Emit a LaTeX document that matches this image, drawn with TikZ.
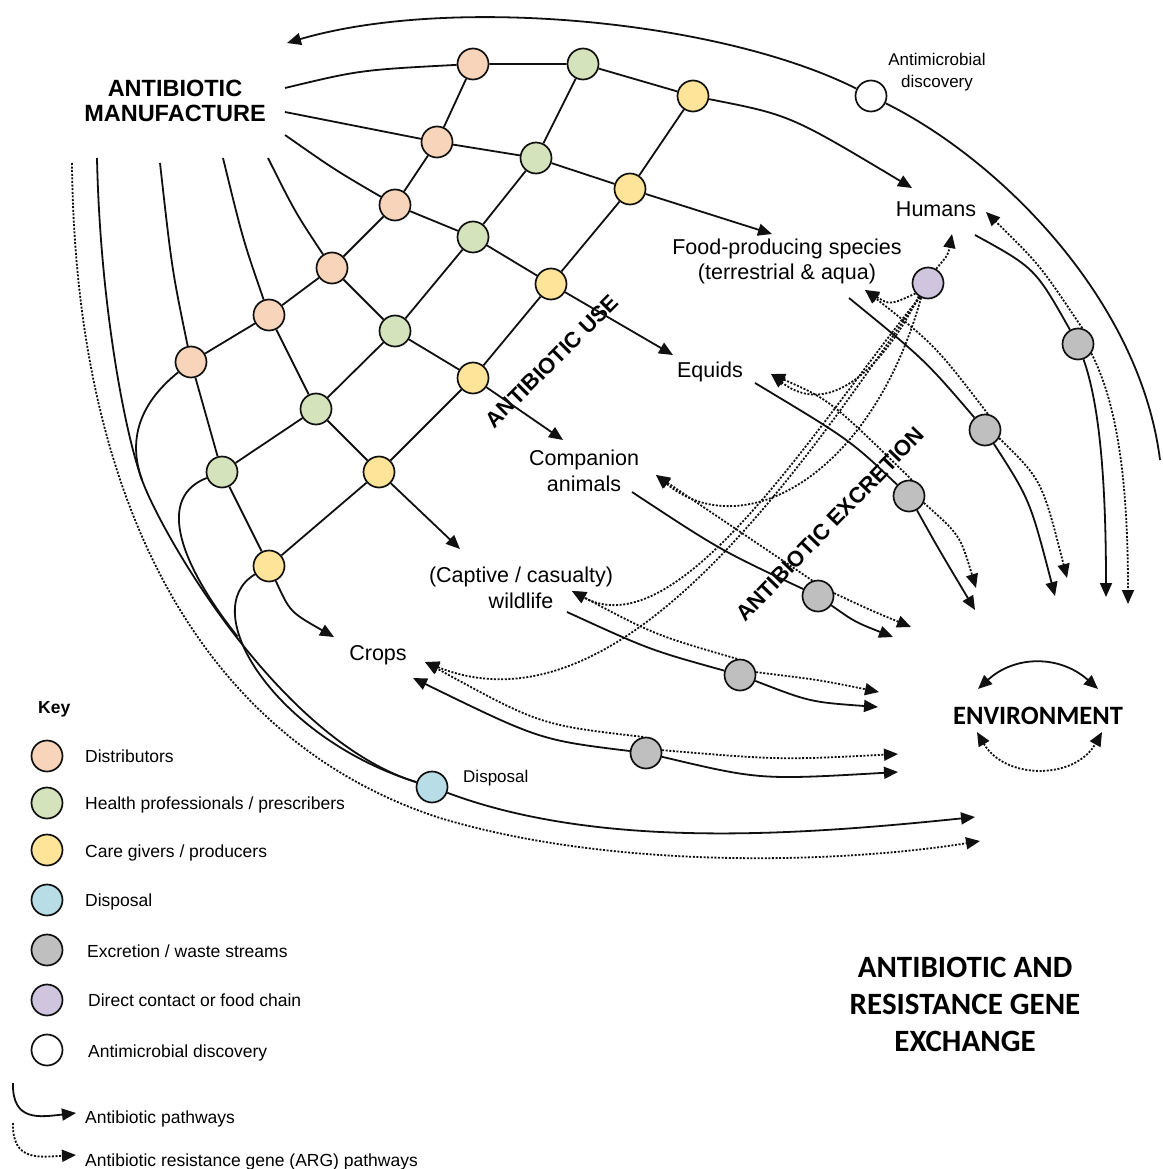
\documentclass[tikz,border=0pt]{standalone}
\usepackage{fontspec}
\setmainfont{Liberation Sans}
\newfontfamily\calfont{Carlito}
\usetikzlibrary{arrows.meta}
\definecolor{cDist}{HTML}{F8D5BA}
\definecolor{cHealth}{HTML}{D5E3BD}
\definecolor{cCare}{HTML}{FEE498}
\definecolor{cDisp}{HTML}{B9DDE7}
\definecolor{cWaste}{HTML}{BFBFBF}
\definecolor{cContact}{HTML}{CFC5DE}
\definecolor{ink}{HTML}{101010}
\begin{document}
\begin{tikzpicture}[x=1pt,y=-1pt,
  hub/.style={circle,draw=ink,line width=1.7pt,minimum size=31pt,inner sep=0pt},
  dist/.style={hub,fill=cDist},
  health/.style={hub,fill=cHealth},
  care/.style={hub,fill=cCare},
  disp/.style={hub,fill=cDisp},
  waste/.style={hub,fill=cWaste},
  contact/.style={hub,fill=cContact},
  discov/.style={hub,fill=white},
  link/.style={draw=ink,line width=1.8pt},
  argline/.style={draw=ink,line width=1.8pt,dash pattern=on 2pt off 1.6pt},
  arrowed/.style={-{Triangle[length=14pt,width=12pt]}},
  bothends/.style={{Triangle[length=14pt,width=12pt]}-{Triangle[length=14pt,width=12pt]}},
  lbl/.style={inner sep=0pt,anchor=base,font=\fontsize{21.5}{25}\selectfont},
  small/.style={inner sep=0pt,anchor=base,font=\fontsize{17}{20}\selectfont},
  keylbl/.style={inner sep=0pt,anchor=base west,font=\fontsize{17.5}{20}\selectfont},
  stage/.style={inner sep=0pt,font=\fontsize{22}{26}\selectfont\bfseries},
  headline/.style={inner sep=0pt,anchor=base,font=\fontsize{23.5}{26}\selectfont\bfseries},
  envfont/.style={inner sep=0pt,anchor=base,font=\calfont\fontsize{26.5}{30}\selectfont\bfseries},
  bigtitle/.style={inner sep=0pt,anchor=base,font=\calfont\fontsize{31}{35}\selectfont\bfseries},
]
\fill[white] (0,0) rectangle (1162,1169);
\useasboundingbox (0,0) rectangle (1162,1169);

% ---------- text labels ----------
\node[headline] (mfgA) at (175,97) {ANTIBIOTIC};
\node[headline] (mfgB) at (175,122) {MANUFACTURE};
\node[small] (amA) at (937,66) {Antimicrobial};
\node[small] (amB) at (937,88) {discovery};
\node[lbl] (humans) at (936,216) {Humans};
\node[lbl] (foodA) at (787,254) {Food-producing species};
\node[lbl] (foodB) at (787,279) {(terrestrial \& aqua)};
\node[lbl] (equids) at (710,377) {Equids};
\node[lbl] (compA) at (584,465) {Companion};
\node[lbl] (compB) at (584,491) {animals};
\node[lbl] (wildA) at (521,582) {(Captive / casualty)};
\node[lbl] (wildB) at (521,608) {wildlife};
\node[lbl] (crops) at (378,660) {Crops};
\node[envfont] (env) at (1038,724) {ENVIRONMENT};
\node[small,anchor=base west] (displbl) at (463,782) {Disposal};
\node[bigtitle] (ttlA) at (965,977) {ANTIBIOTIC AND};
\node[bigtitle] (ttlB) at (965,1014) {RESISTANCE GENE};
\node[bigtitle] (ttlC) at (965,1051) {EXCHANGE};
\node[stage,rotate=45] (use) at (552,361) {ANTIBIOTIC USE};
\node[stage,rotate=46] (excr) at (830,524) {ANTIBIOTIC EXCRETION};

% ---------- actor grid ----------
\node[dist] (D1) at (473,64) {};
\node[dist] (D2) at (437,142) {};
\node[dist] (D3) at (395,205) {};
\node[dist] (D4) at (332,268) {};
\node[dist] (D5) at (269,315) {};
\node[dist] (D6) at (191,362) {};
\node[health] (G1) at (583,64) {};
\node[health] (G2) at (536,158) {};
\node[health] (G3) at (473,237) {};
\node[health] (G4) at (395,331) {};
\node[health] (G5) at (316,409) {};
\node[health] (G6) at (222,472) {};
\node[care] (Y1) at (693,96) {};
\node[care] (Y2) at (630,189) {};
\node[care] (Y3) at (551,284) {};
\node[care] (Y4) at (473,378) {};
\node[care] (Y5) at (379,472) {};
\node[care] (Y6) at (269,566) {};
\node[discov] (W) at (871,96) {};
\node[disp] (X) at (432,787) {};
\node[contact] (P) at (928,283) {};
\node[waste] (E1) at (1078,344) {};
\node[waste] (E2) at (985,430) {};
\node[waste] (E3) at (909,496) {};
\node[waste] (E4) at (818,596) {};
\node[waste] (E5) at (740,675) {};
\node[waste] (E6) at (646,753) {};

% ---------- free ends ----------
\coordinate (r1s) at (285,88);
\coordinate (r2s) at (285,112);
\coordinate (r3s) at (285,135);
\coordinate (r4s) at (268,158);
\coordinate (r5s) at (223,158);
\coordinate (r6s) at (160,163);
\coordinate (lgs) at (97,158);
\coordinate (dts) at (72,163);
\coordinate (j1) at (142,480);
\coordinate (j2) at (237.5,636.5);
\coordinate (dmid) at (440,818);
\coordinate (bsE) at (975,817);
\coordinate (bdE) at (980,841);
\coordinate (oaS) at (1160,460);
\coordinate (oaE) at (287,43);
\coordinate (hmA) at (912,188);
\coordinate (fdA) at (772,234);
\coordinate (eqA) at (673,355);
\coordinate (cpA) at (563,440);
\coordinate (wlA) at (460,549);
\coordinate (crA) at (334,637);
\coordinate (hmS) at (975,235);
\coordinate (hmE) at (1106,597);
\coordinate (hmD1) at (986,212);
\coordinate (hmD2) at (1128,604);
\coordinate (fdS) at (849,298);
\coordinate (fdE) at (1055,596);
\coordinate (fdD1) at (865,290);
\coordinate (fdD2) at (1067,578);
\coordinate (eqS) at (755,383);
\coordinate (eqE) at (975,610);
\coordinate (eqD1) at (771,374);
\coordinate (eqD2) at (976,588);
\coordinate (cpS) at (632,492);
\coordinate (cpE) at (893,637);
\coordinate (cpD1) at (656,475);
\coordinate (cpD2) at (911,627);
\coordinate (wlS) at (567,612);
\coordinate (wlE) at (878,707);
\coordinate (wlD1) at (572,591);
\coordinate (wlD2) at (879,692);
\coordinate (crS) at (413,678);
\coordinate (crE) at (898,772);
\coordinate (crD1) at (425,662);
\coordinate (crD2) at (898,754);
\coordinate (pH) at (952,234);
\coordinate (e1) at (978,689);
\coordinate (e2) at (1098,689);
\coordinate (e3) at (977,732);
\coordinate (e4) at (1102,732);

% ---------- supply rows ----------
\draw[link] (r1s) .. controls (360,70) .. (D1);
\draw[link] (D1) -- (G1) -- (Y1);
\draw[link,arrowed] (Y1) .. controls (790,115) .. (hmA);
\draw[link] (r2s) -- (D2) -- (G2) -- (Y2);
\draw[link,arrowed] (Y2) -- (fdA);
\draw[link] (r3s) .. controls (335,170) .. (D3);
\draw[link] (D3) -- (G3) -- (Y3);
\draw[link,arrowed] (Y3) -- (eqA);
\draw[link] (r4s) .. controls (295,212) .. (D4);
\draw[link] (D4) -- (G4) -- (Y4);
\draw[link,arrowed] (Y4) -- (cpA);
\draw[link] (r5s) .. controls (243,240) .. (D5);
\draw[link] (D5) -- (G5) -- (Y5);
\draw[link,arrowed] (Y5) -- (wlA);
\draw[link] (r6s) .. controls (172,270) .. (D6);
\draw[link] (D6) -- (G6) -- (Y6);
\draw[link,arrowed] (Y6) .. controls (290,612) .. (crA);

% ---------- columns ----------
\draw[link] (D1) -- (D2) -- (D3) -- (D4) -- (D5) -- (D6);
\draw[link] (G1) -- (G2) -- (G3) -- (G4) -- (G5) -- (G6);
\draw[link] (Y1) -- (Y2) -- (Y3) -- (Y4) -- (Y5) -- (Y6);

% ---------- disposal bundle ----------
\draw[link] (lgs) .. controls (100,300) and (124,430) .. (j1) .. controls (162,535) and (280,740) .. (X);
\draw[link] (D6) .. controls (150,395) and (124,430) .. (j1);
\draw[link] (G6) .. controls (150,500) and (190,577) .. (j2);
\draw[link] (Y6) .. controls (195,610) and (275,738) .. (X);
\draw[link,arrowed] (X) .. controls (600,850) and (800,835) .. (bsE);
\draw[argline,arrowed] (dts) .. controls (75,500) and (200,740) .. (dmid) .. controls (620,872) and (850,862) .. (bdE);

% ---------- discovery loop ----------
\draw[link] (oaS) .. controls (1140,300) and (1000,160) .. (W);
\draw[link,arrowed] (W) .. controls (720,20) and (450,-5) .. (oaE);

% ---------- excretion ----------
\draw[link] (hmS) .. controls (1035,268) .. (E1);
\draw[link,arrowed] (E1) .. controls (1098,400) and (1106,470) .. (hmE);
\draw[argline,arrowed] (E1.75) .. controls (1040,265) .. (hmD1);
\draw[argline,arrowed] (E1.-35) .. controls (1115,400) and (1128,470) .. (hmD2);

\draw[link] (fdS) .. controls (925,360) .. (E2);
\draw[link,arrowed] (E2) .. controls (1030,500) .. (fdE);
\draw[argline,arrowed] (E2.80) .. controls (935,345) .. (fdD1);
\draw[argline,arrowed] (E2.-30) .. controls (1042,480) .. (fdD2);

\draw[link] (eqS) .. controls (850,440) .. (E3);
\draw[link,arrowed] (E3) .. controls (938,548) .. (eqE);
\draw[argline,arrowed] (E3.80) .. controls (830,400) .. (eqD1);
\draw[argline,arrowed] (E3.-25) .. controls (960,535) .. (eqD2);

\draw[link] (cpS) .. controls (720,550) .. (E4);
\draw[link,arrowed] (E4) .. controls (855,622) .. (cpE);
\draw[argline,arrowed] (E4.110) .. controls (730,525) .. (cpD1);
\draw[argline,arrowed] (E4.10) .. controls (870,610) .. (cpD2);

\draw[link] (wlS) .. controls (650,650) .. (E5);
\draw[link,arrowed] (E5) .. controls (810,702) .. (wlE);
\draw[argline,arrowed] (E5.100) .. controls (655,635) .. (wlD1);
\draw[argline,arrowed] (E5.10) .. controls (820,680) .. (wlD2);

\draw[link,arrowed] (E6) .. controls (540,740) .. (crS);
\draw[link,arrowed] (E6) .. controls (760,780) .. (crE);
\draw[argline,arrowed] (E6.100) .. controls (540,725) .. (crD1);
\draw[argline,arrowed] (E6.10) .. controls (780,760) .. (crD2);

% ---------- direct contact / food chain ----------
\draw[argline,arrowed] (P.60) .. controls (948,255) .. (pH);
\draw[argline,arrowed] (P.220) .. controls (890,305) .. (fdD1);
\draw[argline,arrowed] (P.235) .. controls (885,365) and (830,420) .. (eqD1);
\draw[argline,arrowed] (P.245) .. controls (870,480) and (740,545) .. (cpD1);
\draw[argline,arrowed] (P.240) .. controls (820,420) and (680,650) .. (wlD1);
\draw[argline,arrowed] (P.240) .. controls (800,470) and (620,740) .. (crD1);

% ---------- environment exchange ----------
\draw[link,bothends] (e1) .. controls (1015,655) and (1060,655) .. (e2);
\draw[argline,bothends] (e3) .. controls (1005,780) and (1075,780) .. (e4);

% ---------- key ----------
\node[keylbl,font=\fontsize{17.5}{20}\selectfont\bfseries] (keyttl) at (38,713) {Key};
\node[dist] (kD) at (47,756) {};
\node[health] (kG) at (47,803) {};
\node[care] (kY) at (47,850) {};
\node[disp] (kX) at (47,900) {};
\node[waste] (kE) at (47,950) {};
\node[contact] (kP) at (47,1000) {};
\node[discov] (kW) at (47,1050) {};
\node[keylbl] (kDl) at (85,762) {Distributors};
\node[keylbl] (kGl) at (85,809) {Health professionals / prescribers};
\node[keylbl] (kYl) at (85,857) {Care givers / producers};
\node[keylbl] (kXl) at (85,906) {Disposal};
\node[keylbl] (kEl) at (87,957) {Excretion / waste streams};
\node[keylbl] (kPl) at (88,1006) {Direct contact or food chain};
\node[keylbl] (kWl) at (88,1057) {Antimicrobial discovery};
\node[keylbl] (kAl) at (85,1123) {Antibiotic pathways};
\node[keylbl] (kRl) at (85,1166) {Antibiotic resistance gene (ARG) pathways};
\coordinate (ka1) at (13,1083);
\coordinate (ka2) at (76,1113);
\coordinate (kb1) at (13,1123);
\coordinate (kb2) at (76,1155);
\draw[link,arrowed] (ka1) .. controls (12,1122) and (40,1117) .. (ka2);
\draw[argline,arrowed] (kb1) .. controls (12,1162) and (40,1157) .. (kb2);
\end{tikzpicture}
\end{document}
